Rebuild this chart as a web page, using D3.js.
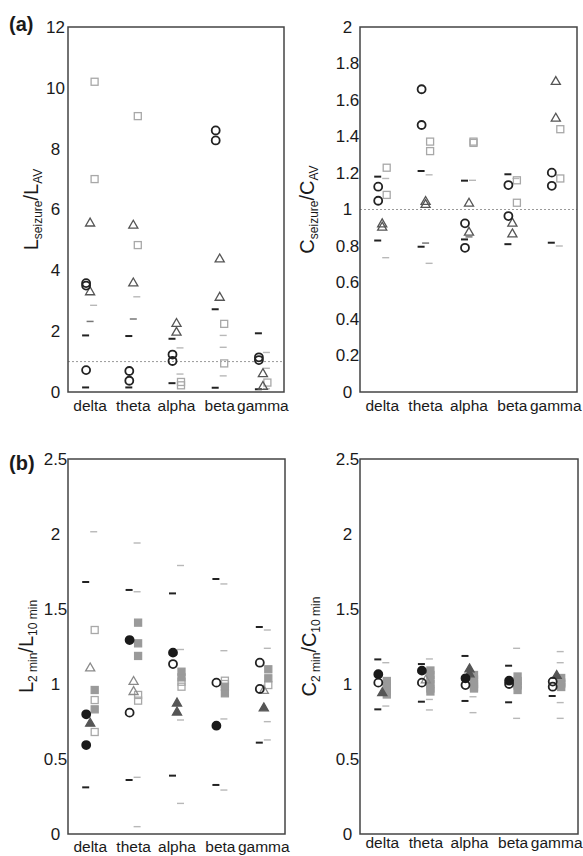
<!DOCTYPE html>
<html>
<head>
<meta charset="utf-8">
<script src="https://cdn.jsdelivr.net/npm/d3@7"></script>
<style>
  html, body { margin: 0; padding: 0; background: #fff; }
  svg { display: block; }
  text { font-family: "Liberation Sans", Arial, sans-serif; fill: #1a1a1a; }
</style>
</head>
<body>
<svg id="chart" width="583" height="856"></svg>
<script>
// ---------------- DATA ----------------
const categories = ["delta", "theta", "alpha", "beta", "gamma"];

// Panel (a) left: L_seizure / L_AV
const aL_ticks = [0, 2, 4, 6, 8, 10, 12];
const aL_circles = [["delta",3.58],["delta",3.5],["delta",0.72],["theta",0.69],["theta",0.37],
  ["alpha",1.23],["alpha",1.02],["beta",8.6],["beta",8.27],["gamma",1.14],["gamma",1.05]];
const aL_triangles = [["delta",5.57],["delta",3.31],["theta",5.5],["theta",3.6],["alpha",2.27],["alpha",1.98],
  ["beta",4.39],["beta",3.13],["gamma",0.62],["gamma",0.2]];
const aL_squares = [["delta",10.2],["delta",7.0],["theta",9.07],["theta",4.83],["alpha",0.33],["alpha",0.22],
  ["beta",2.24],["beta",0.94],["gamma",0.31]];
const aL_dashBlack = [["delta",1.86],["delta",0.15],["theta",1.84],["theta",0.15],["alpha",1.75],["alpha",0.29],
  ["beta",2.72],["beta",0.14],["gamma",1.93],["gamma",0.09]];
const aL_dashMid = [["delta",2.32],["theta",2.4]];
const aL_dashLight = [["delta",2.85],["theta",3.13],["alpha",1.45],["alpha",0.59],["beta",1.86],["beta",1.47],
  ["beta",0.53],["gamma",1.3],["gamma",0.78],["gamma",0.11]];

// Panel (a) right: C_seizure / C_AV
const aC_ticks = [0, 0.2, 0.4, 0.6, 0.8, 1, 1.2, 1.4, 1.6, 1.8, 2];
const aC_circles = [["delta",1.125],["delta",1.048],["theta",1.659],["theta",1.463],["alpha",0.924],["alpha",0.79],
  ["beta",1.134],["beta",0.964],["gamma",1.202],["gamma",1.13]];
const aC_triangles = [["delta",0.924],["delta",0.906],["theta",1.047],["theta",1.03],["alpha",1.037],["alpha",0.878],
  ["beta",0.928],["beta",0.869],["gamma",1.704],["gamma",1.503]];
const aC_squares = [["delta",1.229],["delta",1.08],["theta",1.372],["theta",1.32],["alpha",1.372],["alpha",1.365],
  ["beta",1.16],["beta",1.037],["gamma",1.44],["gamma",1.17]];
const aC_dashBlack = [["delta",1.18],["delta",0.83],["theta",1.211],["theta",0.796],["alpha",1.158],["alpha",0.836],
  ["beta",1.193],["beta",0.81],["gamma",0.818]];
const aC_dashMid = [["theta",0.816],["alpha",0.85]];
const aC_dashLight = [["delta",1.17],["delta",0.736],["theta",1.19],["theta",0.705],["alpha",1.16],["beta",1.17],["gamma",0.8]];

// Panel (b) left: L_2min / L_10min
const bL_ticks = [0, 0.5, 1, 1.5, 2, 2.5];
const bL_circlesFilled = [["delta",0.798],["delta",0.593],["theta",1.293],["alpha",1.209],["beta",0.722]];
const bL_circlesOpen = [["theta",0.809],["alpha",1.133],["beta",1.009],["gamma",1.142],["gamma",0.967]];
const bL_trianglesFilled = [["delta",0.742],["alpha",0.876],["alpha",0.816],["gamma",0.844]];
const bL_trianglesOpen = [["delta",1.11],["theta",1.02],["theta",0.953],["gamma",0.96]];
const bL_squaresFilled = [["delta",0.96],["delta",0.831],["theta",1.409],["theta",1.271],["theta",1.187],
  ["alpha",1.082],["alpha",1.044],["beta",0.982],["beta",0.938],["gamma",1.098],["gamma",1.038]];
const bL_squaresOpen = [["delta",1.36],["delta",0.893],["delta",0.68],["theta",0.927],["theta",0.889],
  ["alpha",1.015],["alpha",0.982],["beta",1.022],["beta",1.0],["gamma",0.993]];
const bL_dashBlack = [["delta",1.68],["delta",0.311],["theta",1.627],["theta",0.36],["alpha",1.604],["alpha",0.389],
  ["beta",1.7],["beta",0.327],["gamma",1.38],["gamma",0.609]];
const bL_dashLight = [["delta",2.015],["theta",1.94],["theta",1.615],["theta",0.378],["theta",0.049],
  ["alpha",1.79],["alpha",1.23],["alpha",0.76],["alpha",0.204],["beta",1.667],["beta",1.222],["beta",0.767],
  ["beta",0.293],["gamma",1.36],["gamma",1.238],["gamma",0.749],["gamma",0.627]];

// Panel (b) right: C_2min / C_10min
const bC_ticks = [0, 0.5, 1, 1.5, 2, 2.5];
const bC_circlesFilled = [["delta",1.065],["theta",1.089],["alpha",1.038],["beta",1.022]];
const bC_circlesOpen = [["delta",1.009],["theta",1.009],["alpha",0.993],["beta",1.0],["gamma",1.016],["gamma",0.982]];
const bC_trianglesFilled = [["delta",0.945],["alpha",1.104],["alpha",1.071],["gamma",1.06]];
const bC_trianglesOpen = [["theta",1.03]];
const bC_squaresFilled = [["delta",1.02],["delta",0.98],["delta",0.95],["delta",0.93],
  ["theta",1.09],["theta",1.06],["theta",1.03],["theta",1.0],["theta",0.97],["theta",0.95],
  ["alpha",1.06],["alpha",1.03],["alpha",1.0],["alpha",0.97],
  ["beta",1.05],["beta",1.02],["beta",0.99],["beta",0.96],
  ["gamma",1.04],["gamma",1.01],["gamma",0.98]];
const bC_squaresOpen = [["delta",1.0],["alpha",0.98],["beta",1.0],["gamma",1.0]];
const bC_dashBlack = [["delta",1.164],["delta",0.831],["theta",1.133],["theta",0.882],["alpha",1.187],["alpha",0.887],
  ["beta",1.122],["beta",0.878],["gamma",0.92]];
const bC_dashLight = [["delta",1.142],["delta",0.853],["theta",1.167],["theta",0.827],["theta",0.897],
  ["alpha",0.809],["alpha",0.915],["beta",1.238],["beta",0.771],["gamma",1.216],["gamma",1.142],["gamma",0.876],["gamma",0.771]];

// ---------------- DRAWING ----------------
const svg = d3.select("#chart");
const FONT = '"Liberation Sans", Arial, sans-serif';

function panel(cfg) {
  const g = svg.append("g");
  const x = d3.scalePoint().domain(categories).range([cfg.x0, cfg.x1]).padding(0.5);
  const y = d3.scaleLinear().domain([0, cfg.ymax]).range([cfg.y1, cfg.y0]);

  if (cfg.refLine) {
    g.append("line").attr("x1", cfg.x0).attr("x2", cfg.x1)
      .attr("y1", y(1)).attr("y2", y(1))
      .attr("stroke", "#9a9a9a").attr("stroke-width", 1).attr("stroke-dasharray", "2,2");
  }

  const yAxis = d3.axisLeft(y).tickValues(cfg.ticks).tickSize(0).tickFormat(d3.format("~g"));
  const ya = g.append("g").attr("transform", `translate(${cfg.x0},0)`).call(yAxis);
  ya.select(".domain").remove();
  ya.selectAll("text").attr("x", -12.5).attr("text-anchor", "middle")
    .style("font-size", "17px").style("font-family", FONT).attr("fill", "#1a1a1a");

  const xAxis = d3.axisBottom(x).tickSize(0);
  const xa = g.append("g").attr("transform", `translate(0,${cfg.y1})`).call(xAxis);
  xa.select(".domain").remove();
  xa.selectAll("text").attr("y", cfg.xLabelDy).attr("dy", 0)
    .style("font-size", "15.5px").style("font-family", FONT).attr("fill", "#1a1a1a");

  const dash = (data, dx, color, w, len) => {
    g.selectAll(null).data(data || []).enter().append("line")
      .attr("x1", d => x(d[0]) + dx - len / 2).attr("x2", d => x(d[0]) + dx + len / 2)
      .attr("y1", d => y(d[1])).attr("y2", d => y(d[1]))
      .attr("stroke", color).attr("stroke-width", w);
  };
  dash(cfg.dashLight, 4, "#b8b8b8", 1.4, 7);
  dash(cfg.dashMid, 0.5, "#777", 1.5, 7);
  dash(cfg.dashBlack, -4, "#222", 2, 7);

  const tri = d3.symbol().type(d3.symbolTriangle).size(36);
  const squares = (data, fill, stroke) => {
    g.selectAll(null).data(data || []).enter().append("rect")
      .attr("x", d => x(d[0]) + 5 - 3.5).attr("y", d => y(d[1]) - 3.5)
      .attr("width", 7).attr("height", 7)
      .attr("fill", fill).attr("stroke", stroke).attr("stroke-width", 1.3);
  };
  const triangles = (data, fill, stroke) => {
    g.selectAll(null).data(data || []).enter().append("path")
      .attr("d", tri)
      .attr("transform", d => `translate(${x(d[0]) + 0.5},${y(d[1]) + 0.8})`)
      .attr("fill", fill).attr("stroke", stroke).attr("stroke-width", 1.3);
  };
  const circles = (data, fill, stroke) => {
    g.selectAll(null).data(data || []).enter().append("circle")
      .attr("cx", d => x(d[0]) - 3.5).attr("cy", d => y(d[1])).attr("r", 4)
      .attr("fill", fill).attr("stroke", stroke).attr("stroke-width", 1.8);
  };

  squares(cfg.squaresOpen, "none", "#a8a8a8");
  squares(cfg.squaresFilled, "#9a9a9a", "#9a9a9a");
  triangles(cfg.trianglesOpen, "none", cfg.openTriColor || "#555");
  triangles(cfg.trianglesFilled, "#555", "#555");
  circles(cfg.circlesOpen, "none", "#222");
  circles(cfg.circlesFilled, "#1a1a1a", "#1a1a1a");

  g.append("rect").attr("x", cfg.x0).attr("y", cfg.y0)
    .attr("width", cfg.x1 - cfg.x0).attr("height", cfg.y1 - cfg.y0)
    .attr("fill", "none").attr("stroke", "#444").attr("stroke-width", 1.5);

  const lab = g.append("text")
    .attr("transform", `translate(${cfg.labelX},${(cfg.y0 + cfg.y1) / 2}) rotate(-90)`)
    .attr("text-anchor", "middle").style("font-size", "20px");
  lab.append("tspan").text(cfg.label[0]);
  lab.append("tspan").attr("dy", 4).style("font-size", "12px").text(cfg.label[1]);
  lab.append("tspan").attr("dy", -4).text("/" + cfg.label[2]);
  lab.append("tspan").attr("dy", 4).style("font-size", "12px").text(cfg.label[3]);
}

panel({ x0: 68, x1: 284, y0: 27, y1: 392, ymax: 12, ticks: aL_ticks, refLine: true, xLabelDy: 19,
  circlesOpen: aL_circles, trianglesOpen: aL_triangles, squaresOpen: aL_squares,
  dashBlack: aL_dashBlack, dashMid: aL_dashMid, dashLight: aL_dashLight,
  labelX: 38, label: ["L", "seizure", "L", "AV"] });

panel({ x0: 360, x1: 577, y0: 27, y1: 392, ymax: 2, ticks: aC_ticks, refLine: true, xLabelDy: 19,
  circlesOpen: aC_circles, trianglesOpen: aC_triangles, squaresOpen: aC_squares,
  dashBlack: aC_dashBlack, dashMid: aC_dashMid, dashLight: aC_dashLight,
  labelX: 314, label: ["C", "seizure", "C", "AV"] });

panel({ x0: 68, x1: 285, y0: 459, y1: 834, ymax: 2.5, ticks: bL_ticks, refLine: false, xLabelDy: 18,
  circlesOpen: bL_circlesOpen, circlesFilled: bL_circlesFilled,
  trianglesOpen: bL_trianglesOpen, trianglesFilled: bL_trianglesFilled, openTriColor: "#8a8a8a",
  squaresOpen: bL_squaresOpen, squaresFilled: bL_squaresFilled,
  dashBlack: bL_dashBlack, dashLight: bL_dashLight,
  labelX: 33, label: ["L", "2 min", "L", "10 min"] });

panel({ x0: 360, x1: 578, y0: 459, y1: 834, ymax: 2.5, ticks: bC_ticks, refLine: false, xLabelDy: 14,
  circlesOpen: bC_circlesOpen, circlesFilled: bC_circlesFilled,
  trianglesOpen: bC_trianglesOpen, trianglesFilled: bC_trianglesFilled, openTriColor: "#8a8a8a",
  squaresOpen: bC_squaresOpen, squaresFilled: bC_squaresFilled,
  dashBlack: bC_dashBlack, dashLight: bC_dashLight,
  labelX: 316, label: ["C", "2 min", "C", "10 min"] });

svg.append("text").attr("x", 9).attr("y", 31).style("font-size", "20px").style("font-weight", "bold").text("(a)");
svg.append("text").attr("x", 9).attr("y", 470).style("font-size", "20px").style("font-weight", "bold").text("(b)");
</script>
</body>
</html>
